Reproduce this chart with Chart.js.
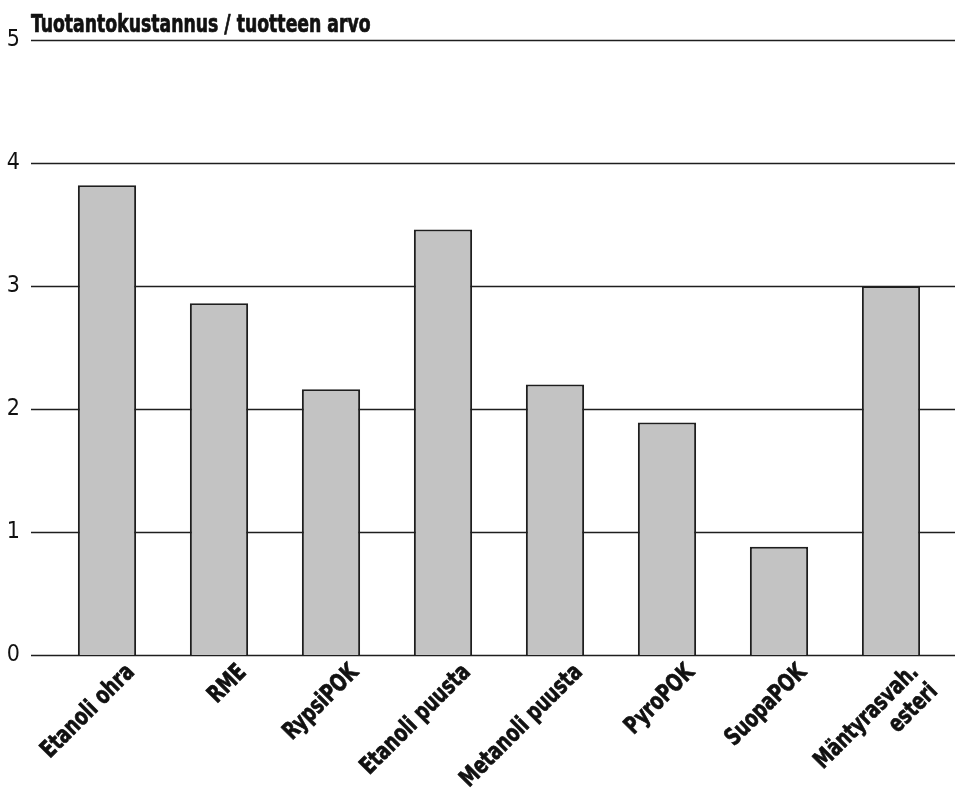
<!DOCTYPE html>
<html lang="fi">
<head>
<meta charset="utf-8">
<title>Tuotantokustannus / tuotteen arvo</title>
<script src="https://cdn.jsdelivr.net/npm/chart.js@4/dist/chart.umd.min.js"></script>
<style>
  html, body { margin: 0; padding: 0; background: #fff; }
  #wrap { width: 955px; height: 789px; position: relative; }
</style>
</head>
<body>
<div id="wrap"><canvas id="c" width="955" height="789"></canvas></div>
<script>
// Tuotantokustannuksen ja tuotteen arvon suhde eri biopolttoaineille
const categories = [
  'Etanoli ohra',
  'RME',
  'RypsiPOK',
  'Etanoli puusta',
  'Metanoli puusta',
  'PyroPOK',
  'SuopaPOK',
  ['Mäntyrasvah.', 'esteri']
];
const costRatio = [3.82, 2.86, 2.16, 3.46, 2.2, 1.89, 0.88, 3.0];
const yTicks = [0, 1, 2, 3, 4, 5];
const titleText = 'Tuotantokustannus / tuotteen arvo';

const FONT = '"Liberation Sans Narrow", "DejaVu Sans Condensed", "Arial Narrow", sans-serif';
const INK = '#1e1e1e';

// Heavy condensed text: squeeze horizontally, then fill and lightly stroke
function heavyText(ctx, text, x, y) {
  ctx.fillText(text, x, y);
  ctx.strokeText(text, x, y);
}

// Horizontal rules, heading and slanted category names
const decorations = {
  id: 'decorations',
  beforeDatasetsDraw(chart) {
    const { ctx, chartArea, scales } = chart;
    const y = scales.y;
    ctx.save();
    ctx.strokeStyle = INK;
    ctx.lineWidth = 1.6;
    yTicks.forEach(v => {
      const py = Math.round(y.getPixelForValue(v)) + 0.5;
      ctx.beginPath();
      ctx.moveTo(chartArea.left - 20, py);
      ctx.lineTo(chart.width, py);
      ctx.stroke();
    });
    ctx.restore();
  },
  afterDraw(chart) {
    const { ctx, chartArea, scales } = chart;
    ctx.save();
    ctx.fillStyle = '#111';
    ctx.strokeStyle = '#111';
    ctx.lineWidth = 0.7;
    ctx.lineJoin = 'round';

    // heading above the top rule
    ctx.font = 'bold 24px ' + FONT;
    ctx.textAlign = 'left';
    ctx.textBaseline = 'alphabetic';
    ctx.save();
    ctx.translate(chartArea.left - 20, chartArea.top - 8);
    ctx.scale(0.8, 1);
    heavyText(ctx, titleText, 0, 0);
    ctx.restore();

    // category names, rotated 45 degrees, right end at the bar
    const y0 = scales.y.getPixelForValue(0);
    ctx.textAlign = 'right';
    ctx.textBaseline = 'middle';
    categories.forEach((lab, i) => {
      const lines = Array.isArray(lab) ? lab : [lab];
      const px = scales.x.getPixelForValue(i);
      ctx.save();
      ctx.translate(px + 24, y0 + 14);
      ctx.rotate(-Math.PI / 4);
      ctx.scale(0.82, 1);
      lines.forEach((t, k) => heavyText(ctx, t, 0, k * 27));
      ctx.restore();
    });
    ctx.restore();
  }
};

new Chart(document.getElementById('c'), {
  type: 'bar',
  data: {
    labels: categories,
    datasets: [{
      data: costRatio,
      backgroundColor: '#c3c3c3',
      borderColor: INK,
      borderWidth: 2,
      categoryPercentage: 1,
      barPercentage: 0.52
    }]
  },
  options: {
    responsive: false,
    animation: false,
    devicePixelRatio: 1,
    layout: { padding: { top: 40, right: 8, left: 0, bottom: 0 } },
    plugins: {
      legend: { display: false },
      title: { display: false },
      tooltip: { enabled: false }
    },
    scales: {
      x: {
        grid: { display: false, drawTicks: false },
        border: { display: false },
        ticks: { display: false },
        afterFit(scale) { scale.height = 134; }
      },
      y: {
        min: 0,
        max: 5,
        afterBuildTicks(scale) { scale.ticks = yTicks.map(v => ({ value: v })); },
        grid: { display: false, drawTicks: false },
        border: { display: false },
        ticks: {
          padding: 31,
          color: '#111',
          font: { family: FONT, size: 23 }
        },
        afterFit(scale) {
          scale.width = 51;
          // the label gap is horizontal only; keep the top rule at the layout padding
          scale.paddingTop = 0;
          scale.paddingBottom = 0;
        }
      }
    }
  },
  plugins: [decorations]
});
</script>
</body>
</html>
